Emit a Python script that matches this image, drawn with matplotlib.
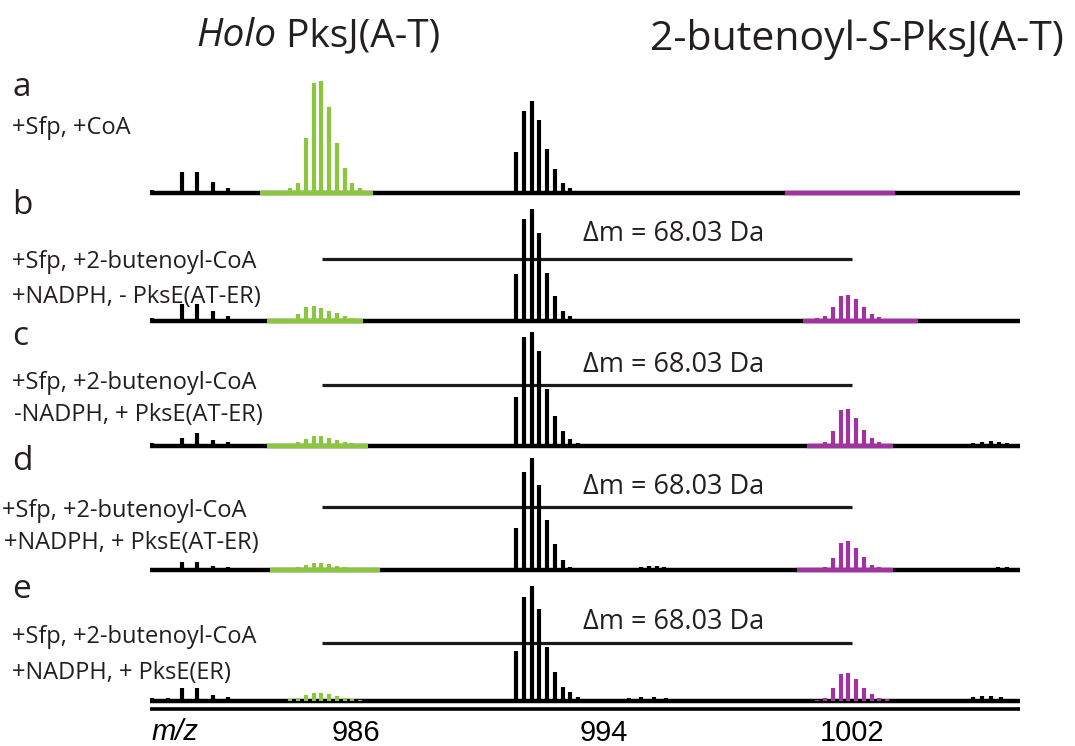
import matplotlib
matplotlib.use('Agg')
import matplotlib.pyplot as plt

plt.rcParams['font.family'] = ['Open Sans', 'DejaVu Sans']

W, H = 1075, 746

# Panel labels and reaction conditions
panel_letters = ['a', 'b', 'c', 'd', 'e']
conditions = [
    ['+Sfp, +CoA'],
    ['+Sfp, +2-butenoyl-CoA', '+NADPH, - PksE(AT-ER)'],
    ['+Sfp, +2-butenoyl-CoA', '-NADPH, + PksE(AT-ER)'],
    ['+Sfp, +2-butenoyl-CoA', '+NADPH, + PksE(AT-ER)'],
    ['+Sfp, +2-butenoyl-CoA', '+NADPH, + PksE(ER)'],
]
delta_label = '\u0394m = 68.03 Da'
delta_from, delta_to = 984.9, 1002.0

# small peaks at the low m/z end
left_mz = [979.42, 979.92, 980.39, 980.87, 981.39, 981.87]
left_int = [
    [3, 0, 21, 21, 11, 5],
    [3, 0, 17, 17, 10, 5],
    [3, 0, 8, 13, 6, 4],
    [2, 0, 8, 8, 4, 3],
    [3, 3, 13, 13, 6, 4],
]

# main (black) isotope cluster
main_mz = [991.16, 991.41, 991.66, 991.91, 992.16, 992.41, 992.66, 992.91, 993.16]
main_int = [
    [41, 82, 92, 73, 44, 24, 10, 5, 2],
    [47, 102, 112, 88, 48, 25, 10, 5, 2],
    [49, 109, 114, 95, 57, 30, 15, 7, 3],
    [42, 98, 112, 85, 50, 26, 10, 3, 2],
    [50, 104, 115, 92, 54, 29, 14, 9, 4],
]

# holo PksJ(A-T) cluster (green)
holo_mz = [983.88, 984.13, 984.38, 984.63, 984.88, 985.13, 985.38, 985.63, 985.88, 986.13]
holo_int = [
    [5, 10, 55, 110, 112, 86, 50, 25, 10, 5],
    [2, 7, 14, 15, 13, 10, 8, 5, 3, 2],
    [2, 4, 7, 10, 10, 8, 6, 4, 3, 2],
    [2, 3, 5, 7, 7, 6, 4, 3, 2, 1],
    [2, 3, 6, 8, 8, 7, 5, 3, 2, 1],
]
holo_band = [(982.90, 986.55), (983.13, 986.23), (983.13, 986.39), (983.23, 986.77), None]

# 2-butenoyl-S-PksJ(A-T) cluster (purple)
acyl_mz = [1000.88, 1001.13, 1001.38, 1001.63, 1001.88, 1002.13, 1002.38, 1002.63, 1002.88, 1003.13]
acyl_int = [
    [1, 1, 1, 1, 1, 1, 1, 1, 1, 1],
    [3, 5, 14, 25, 26, 22, 14, 7, 4, 2],
    [2, 4, 15, 36, 37, 28, 16, 8, 4, 2],
    [2, 3, 12, 27, 29, 22, 13, 5, 3, 2],
    [1, 3, 13, 27, 28, 22, 13, 7, 3, 2],
]
acyl_band = [(999.84, 1003.39), (1000.42, 1004.13), (1000.55, 1003.32), (1000.23, 1003.32), None]

# baseline noise
noise_mz = [
    [979.6, 980.1, 993.5, 993.8, 995.0, 995.5, 996.0, 997.3, 998.4, 1005.2, 1006.0, 1006.8],
    [979.6, 980.2, 993.5, 994.0, 996.5, 998.0, 999.2, 1004.6, 1005.4, 1006.3, 1007.0],
    [979.6, 980.1, 993.6, 995.4, 996.8, 998.2, 1005.9, 1006.2, 1006.5, 1006.75, 1007.0],
    [979.6, 980.1, 993.6, 995.2, 995.45, 995.7, 995.95, 997.5, 1006.3, 1006.7, 1007.0],
    [980.1, 993.6, 994.8, 995.2, 995.6, 996.0, 998.9, 1005.9, 1006.2, 1006.5, 1006.8],
]
noise_int = [
    [2, 2, 2, 2, 2, 2, 2, 2, 2, 2, 2, 2],
    [2, 2, 2, 2, 2, 2, 2, 2, 2, 2, 2],
    [2, 2, 2, 2, 2, 2, 3, 4, 5, 4, 3],
    [2, 2, 2, 3, 4, 4, 3, 2, 2, 3, 3],
    [2, 2, 3, 4, 4, 3, 2, 4, 5, 5, 4],
]

tick_mz = [986, 994, 1002]

GREEN = '#8cc63f'
PURPLE = '#a2329f'
INK = '#231f20'
XMIN, XMAX = 979.35, 1007.42

baselines = [193, 321, 446, 570, 701]
delta_line_y = [None, 62, 61, 63, 58]
delta_text_y = [None, 87, 81, 83, 79]

fig = plt.figure(figsize=(W / 100, H / 100), dpi=100)

for i, bl in enumerate(baselines):
    ax = fig.add_axes([150 / W, (H - (bl + 12)) / H, 870 / W, 130 / H])
    ax.set_xlim(XMIN, XMAX)
    ax.set_ylim(-12, 118)
    ax.patch.set_alpha(0)
    for sp in ax.spines.values():
        sp.set_visible(False)
    ax.set_yticks([])

    ax.hlines(0, XMIN, XMAX, color='black', lw=3.2, zorder=2)
    if holo_band[i]:
        ax.hlines(0, *holo_band[i], color=GREEN, lw=3.2, zorder=3)
    if acyl_band[i]:
        ax.hlines(0, *acyl_band[i], color=PURPLE, lw=3.2, zorder=3)

    ax.vlines(left_mz, 0, left_int[i], color='black', lw=3.0, zorder=4)
    ax.vlines(noise_mz[i], 0, noise_int[i], color='black', lw=3.0, zorder=4)
    ax.vlines(main_mz, 0, main_int[i], color='black', lw=3.0, zorder=4)
    ax.vlines(holo_mz, 0, holo_int[i], color=GREEN, lw=3.0, zorder=4)
    ax.vlines(acyl_mz, 0, acyl_int[i], color=PURPLE, lw=3.0, zorder=4)

    if delta_line_y[i] is not None:
        ax.hlines(delta_line_y[i], delta_from, delta_to, color='#1a1a1a', lw=2.3, zorder=1)
        ax.text((delta_from + delta_to) / 2 + 2.8, delta_text_y[i], delta_label,
                ha='center', va='center', fontsize=19.5, color=INK)

    if i == len(baselines) - 1:
        ax.hlines(-8, XMIN, XMAX, color='black', lw=2.6, zorder=2)
        ax.set_xticks(tick_mz)
        ax.set_xticklabels([str(t) for t in tick_mz], family='Liberation Sans', fontsize=21)
        ax.tick_params(axis='x', length=0, pad=4)
        ax.text(XMIN + 0.05, -31, 'm/z', ha='left', va='center', fontsize=21,
                style='italic', family='Liberation Sans', clip_on=False)
    else:
        ax.set_xticks([])

# panel letters and conditions
letter_y = [87, 206, 336, 461, 590]
cond_y = [[128], [262, 297], [383, 415], [511, 543], [637, 673]]
cond_x = [[12], [12, 12], [12, 14], [2, 4], [12, 12]]
for i, letter in enumerate(panel_letters):
    fig.text(12 / W, 1 - letter_y[i] / H, letter, fontsize=24, va='center', ha='left', color=INK)
    for line, y, x in zip(conditions[i], cond_y[i], cond_x[i]):
        fig.text(x / W, 1 - y / H, line, fontsize=17, va='center', ha='left', color=INK)

# column titles
t1 = fig.text(196 / W, 1 - 46 / H, 'Holo', fontsize=28, style='italic', va='baseline', color=INK)
plt.annotate(' PksJ(A-T)', xy=(1, 0), xycoords=t1, fontsize=28, va='bottom', color=INK)

t2 = fig.text(650 / W, 1 - 50 / H, '2-butenoyl-', fontsize=29.5, va='baseline', color=INK)
t3 = plt.annotate('S', xy=(1, 0), xycoords=t2, fontsize=29.5, style='italic', va='bottom', color=INK)
plt.annotate('-PksJ(A-T)', xy=(1, 0), xycoords=t3, fontsize=29.5, va='bottom', color=INK)

fig.savefig('out.png', dpi=100)
